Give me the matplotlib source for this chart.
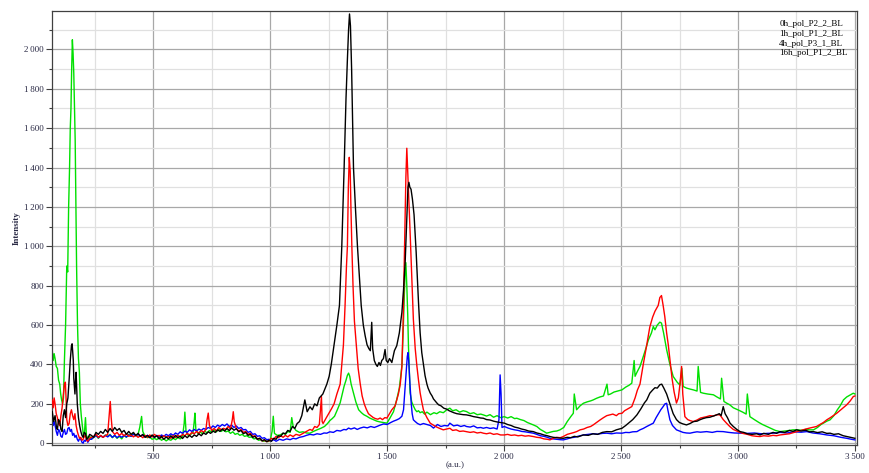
import matplotlib
matplotlib.use("Agg")
import matplotlib.pyplot as plt
from matplotlib.ticker import MultipleLocator, FuncFormatter

plt.rcParams['font.family'] = ['Liberation Serif', 'DejaVu Serif']

labels = ["0h_pol_P2_2_BL", "1h_pol_P1_2_BL", "4h_pol_P3_1_BL", "16h_pol_P1_2_BL"]
colors = ["black", "#ff0000", "#00e000", "#0000ff"]

# (wavenumber, intensity)
s_0h = [(68,160),(74,110),(80,140),(86,80),(90,70),(95,120),(100,110),(105,70),(110,60),(115,140),(120,170),(125,130),(130,200),(135,230),(140,320),(145,420),(150,495),(153,505),(155,470),(158,420),(160,330),(163,280),(165,250),(168,330),(170,360),(175,200),(180,130),(185,90),(190,60),(195,40),(200,30),(205,55),(210,50),(215,20),(220,25),(228,45),(235,40),
        (245,30),(255,55),(265,45),(275,60),(285,50),(295,70),(305,55),(315,75),(325,60),(335,80),(345,65),(355,75),(365,55),(375,65),(385,45),(395,60),(405,45),(415,55),(425,40),(435,50),(445,35),(455,45),(465,30),(475,40),(485,28),(495,42),(505,30),(515,38),(525,22),(535,35),(545,20),(555,32),(565,22),(575,38),(585,25),(595,40),(605,28),(615,36),(625,24),(635,38),(645,28),(655,40),(665,30),(675,42),(685,35),(695,48),(705,38),(715,52),(725,45),(735,58),(745,50),(755,62),(765,55),(775,68),(785,60),(795,72),(805,62),(815,75),(825,64),(835,78),(845,66),(855,74),(865,58),(875,65),(885,48),(895,55),(905,40),(915,45),(925,30),(935,35),(945,20),(955,25),(965,12),(975,18),(985,8),(995,15),(1005,10),(1015,25),(1025,20),(1035,38),(1045,35),(1055,52),(1065,48),(1075,65),(1085,60),(1095,85),(1105,75),(1115,100),(1125,110),(1135,140),(1148,220),(1158,160),(1170,185),(1180,170),(1190,200),(1200,190),(1210,230),(1225,250),(1242,300),(1252,340),(1261,400),(1273,500),(1285,600),(1296,700),(1306,1000),(1316,1400),(1324,1750),(1330,1950),(1335,2100),(1339,2180),(1343,2120),(1348,1900),(1352,1650),(1356,1400),(1365,1180),(1373,1000),(1381,850),(1389,700),(1398,600),(1406,545),(1414,500),(1422,480),(1428,470),(1434,614),(1438,480),(1445,420),(1452,400),(1458,390),(1465,410),(1471,395),(1477,420),(1484,430),(1491,476),(1496,420),(1503,410),(1510,430),(1520,410),(1531,470),(1541,495),(1552,560),(1563,665),(1570,780),(1577,920),(1584,1150),(1589,1300),(1593,1325),(1597,1300),(1602,1290),(1608,1240),(1615,1160),(1624,970),(1634,715),(1641,560),(1648,460),(1655,400),(1662,343),(1670,300),(1675,280),(1684,255),(1692,240),(1698,225),(1705,215),(1712,205),(1720,195),(1730,190),(1742,178),(1755,173),(1765,165),(1775,160),(1785,155),(1798,150),(1810,148),(1825,145),(1839,144),(1855,140),(1870,135),(1885,132),(1900,128),(1911,127),(1925,120),(1940,118),(1955,112),(1970,108),(1985,105),(2001,102),(2015,95),(2030,90),(2045,82),(2060,78),(2075,72),(2090,68),(2105,62),(2125,59),(2140,52),(2155,48),(2170,42),(2185,38),(2196,34),(2210,30),(2225,28),(2240,26),(2253,25),(2270,30),(2285,28),(2300,35),(2315,32),(2339,42),(2360,40),(2380,48),(2400,45),(2420,55),(2439,59),(2460,58),(2480,68),(2504,76),(2520,90),(2535,105),(2550,120),(2568,144),(2585,175),(2600,205),(2610,220),(2623,254),(2635,270),(2645,282),(2655,280),(2666,297),(2674,300),(2683,280),(2695,250),(2709,200),(2723,150),(2737,120),(2750,105),(2765,98),(2780,93),(2795,100),(2810,110),(2825,112),(2837,119),(2850,125),(2865,130),(2880,132),(2895,138),(2909,144),(2920,150),(2928,140),(2937,186),(2945,150),(2955,130),(2966,102),(2980,85),(2995,70),(3009,59),(3025,55),(3040,48),(3060,45),(3080,48),(3094,42),(3110,50),(3130,45),(3150,55),(3165,50),(3180,59),(3200,55),(3220,65),(3235,60),(3251,68),(3270,62),(3290,66),(3305,58),(3323,59),(3340,54),(3360,58),(3380,50),(3394,51),(3410,45),(3430,48),(3450,38),(3465,34),(3480,30),(3500,25)]

s_1h = [(68,220),(72,180),(76,230),(80,200),(85,150),(90,130),(95,100),(100,90),(105,140),(110,180),(115,240),(120,300),(124,310),(128,200),(130,120),(135,90),(140,100),(145,150),(150,170),(155,140),(160,120),(165,150),(170,90),(175,60),(180,40),(185,25),(190,30),(195,15),(200,20),(205,35),(210,40),(215,15),(220,10),(228,25),(235,30),
        (245,35),(255,45),(265,30),(275,40),(285,30),(295,38),(305,45),(312,150),(316,212),(320,130),(325,60),(335,45),(345,55),(355,40),(365,50),(375,38),(385,48),(395,35),(405,42),(415,32),(425,40),(435,30),(445,38),(455,28),(465,40),(475,30),(485,42),(495,32),(505,45),(515,35),(525,40),(535,28),(545,38),(555,30),(565,35),(575,25),(585,38),(595,30),(605,40),(615,32),(625,45),(635,38),(645,50),(655,42),(665,55),(675,48),(685,60),(695,50),(705,65),(715,55),(725,70),(730,120),(735,153),(740,90),(750,65),(760,75),(770,62),(780,80),(790,68),(800,76),(810,70),(820,85),(830,72),(838,120),(842,160),(846,110),(855,75),(865,62),(875,70),(885,55),(895,60),(905,45),(915,50),(925,35),(935,38),(945,22),(955,25),(965,12),(975,15),(985,8),(995,12),(1005,25),(1015,20),(1025,35),(1035,28),(1045,38),(1055,30),(1065,40),(1075,32),(1085,42),(1098,34),(1110,45),(1125,40),(1141,51),(1155,60),(1170,70),(1180,65),(1190,85),(1200,80),(1210,95),(1219,237),(1222,110),(1226,100),(1240,130),(1250,150),(1262,175),(1273,200),(1285,250),(1299,300),(1306,400),(1313,500),(1320,700),(1326,900),(1330,1000),(1334,1300),(1338,1452),(1342,1380),(1345,1200),(1349,1000),(1354,800),(1360,620),(1368,500),(1376,380),(1385,300),(1393,240),(1402,200),(1410,175),(1420,150),(1430,140),(1441,130),(1450,125),(1460,122),(1470,128),(1480,120),(1490,130),(1499,128),(1510,150),(1520,170),(1534,190),(1548,250),(1556,300),(1563,390),(1568,600),(1572,850),(1576,1100),(1580,1350),(1584,1498),(1588,1380),(1592,1250),(1598,1074),(1605,850),(1612,630),(1620,480),(1627,393),(1634,320),(1641,256),(1648,210),(1655,170),(1662,150),(1670,130),(1684,102),(1700,90),(1712,82),(1725,75),(1740,68),(1755,72),(1768,76),(1780,65),(1795,68),(1810,60),(1825,62),(1839,59),(1855,55),(1870,58),(1885,52),(1900,55),(1911,51),(1925,48),(1940,52),(1955,45),(1970,48),(1985,42),(2001,42),(2015,45),(2030,40),(2045,42),(2060,38),(2075,40),(2090,36),(2105,38),(2125,34),(2140,30),(2155,28),(2170,22),(2185,20),(2196,17),(2210,25),(2225,30),(2240,28),(2253,34),(2270,45),(2285,50),(2300,55),(2310,59),(2325,68),(2340,72),(2355,80),(2370,85),(2381,93),(2395,105),(2410,118),(2425,130),(2439,140),(2453,144),(2465,148),(2480,140),(2490,150),(2504,152),(2515,165),(2530,175),(2546,186),(2560,230),(2570,270),(2581,300),(2595,400),(2610,500),(2623,590),(2635,640),(2645,670),(2659,700),(2666,740),(2673,750),(2680,700),(2687,644),(2695,560),(2702,500),(2709,424),(2718,330),(2727,260),(2737,204),(2745,230),(2752,300),(2759,390),(2764,250),(2773,135),(2785,120),(2795,115),(2809,110),(2825,118),(2840,128),(2855,132),(2866,135),(2880,140),(2895,138),(2909,145),(2923,144),(2937,120),(2951,102),(2965,85),(2980,70),(3001,59),(3020,50),(3040,45),(3060,38),(3080,35),(3094,34),(3110,38),(3130,36),(3150,40),(3165,38),(3180,42),(3200,45),(3220,48),(3240,55),(3251,59),(3270,65),(3290,72),(3310,78),(3336,85),(3350,95),(3365,105),(3380,119),(3395,130),(3410,142),(3422,152),(3435,165),(3450,180),(3465,195),(3480,215),(3493,237),(3500,240)]

s_4h = [(68,470),(72,420),(76,455),(80,430),(85,390),(90,380),(95,320),(100,300),(104,250),(108,220),(112,200),(116,230),(120,420),(125,600),(130,900),(134,870),(138,1200),(142,1400),(145,1600),(148,1700),(151,1900),(154,2049),(157,1980),(160,1880),(163,1700),(166,1540),(169,1200),(172,900),(176,600),(180,430),(184,360),(188,200),(192,140),(197,85),(202,30),(206,60),(210,130),(214,40),(220,25),(228,35),(235,20),
        (245,30),(255,40),(265,25),(275,38),(285,30),(295,42),(305,35),(315,45),(325,28),(335,40),(345,25),(355,35),(365,22),(375,40),(385,30),(395,45),(405,35),(415,50),(425,38),(435,45),(442,80),(450,136),(455,60),(465,35),(475,28),(485,32),(495,20),(505,25),(515,18),(525,28),(535,15),(545,22),(555,12),(565,20),(575,15),(585,25),(595,18),(605,30),(615,22),(625,35),(632,100),(635,158),(640,60),(650,38),(660,45),(670,55),(675,110),(678,153),(682,70),(690,50),(700,58),(710,48),(720,62),(730,52),(740,65),(750,55),(760,68),(770,58),(780,72),(790,60),(800,68),(810,58),(820,62),(830,50),(840,58),(850,45),(860,50),(870,40),(880,45),(890,35),(900,38),(910,30),(920,32),(930,22),(940,25),(950,15),(960,18),(970,10),(980,12),(990,8),(1000,15),(1008,60),(1013,137),(1018,50),(1030,40),(1041,42),(1055,50),(1065,45),(1075,60),(1085,55),(1092,130),(1098,85),(1110,65),(1125,55),(1140,58),(1155,52),(1170,51),(1185,60),(1200,68),(1215,75),(1232,85),(1245,100),(1255,115),(1265,125),(1275,137),(1287,170),(1299,205),(1308,250),(1316,290),(1324,320),(1330,345),(1335,356),(1340,340),(1346,300),(1356,256),(1366,210),(1378,170),(1390,155),(1400,145),(1413,137),(1425,128),(1440,120),(1456,112),(1470,108),(1485,105),(1499,102),(1513,130),(1527,160),(1541,222),(1552,280),(1563,393),(1568,550),(1572,700),(1576,850),(1580,917),(1584,800),(1588,650),(1591,495),(1595,350),(1598,256),(1605,210),(1612,190),(1620,170),(1627,160),(1634,165),(1641,155),(1650,160),(1660,148),(1670,158),(1685,145),(1700,155),(1712,150),(1725,160),(1740,155),(1755,170),(1768,178),(1780,165),(1795,170),(1810,158),(1825,165),(1839,161),(1855,150),(1870,155),(1885,145),(1900,148),(1911,144),(1925,138),(1940,145),(1955,132),(1970,140),(1985,130),(2001,135),(2015,128),(2030,135),(2045,125),(2054,127),(2070,120),(2085,115),(2100,105),(2125,93),(2140,85),(2155,70),(2170,60),(2182,51),(2195,55),(2210,60),(2225,62),(2239,68),(2255,80),(2270,110),(2285,135),(2296,152),(2300,250),(2310,170),(2325,190),(2339,203),(2355,210),(2370,215),(2381,220),(2395,228),(2410,235),(2425,240),(2440,300),(2445,246),(2455,250),(2470,260),(2485,265),(2504,271),(2520,285),(2535,295),(2546,305),(2556,420),(2560,340),(2570,365),(2581,390),(2595,440),(2609,492),(2617,525),(2630,560),(2638,593),(2645,576),(2655,600),(2666,615),(2673,610),(2682,560),(2695,475),(2709,400),(2723,339),(2740,310),(2752,295),(2760,380),(2766,288),(2780,280),(2795,275),(2809,271),(2825,265),(2830,390),(2840,258),(2852,254),(2870,250),(2895,246),(2910,235),(2925,225),(2930,330),(2940,212),(2951,204),(2965,195),(2980,180),(3001,169),(3020,158),(3035,148),(3040,250),(3051,135),(3070,120),(3090,105),(3105,95),(3123,85),(3140,75),(3160,65),(3180,59),(3200,62),(3220,65),(3235,68),(3251,68),(3270,66),(3290,70),(3305,68),(3323,68),(3340,80),(3355,95),(3370,105),(3380,112),(3394,119),(3410,140),(3425,170),(3437,190),(3451,220),(3465,235),(3480,245),(3493,254),(3500,250)]

s_16h = [(68,120),(72,90),(76,110),(80,90),(85,60),(90,40),(95,70),(100,60),(105,35),(110,30),(115,55),(120,70),(125,45),(130,50),(135,75),(140,80),(145,60),(150,70),(155,40),(160,50),(165,30),(170,40),(175,20),(180,10),(185,25),(190,20),(195,5),(200,0),(205,15),(210,10),(215,25),(220,5),(228,20),(235,20),
         (245,30),(255,40),(265,28),(275,38),(285,30),(295,40),(305,32),(315,42),(325,30),(335,40),(345,28),(355,38),(365,30),(375,40),(385,32),(395,42),(405,35),(415,45),(425,38),(435,45),(445,35),(455,42),(465,32),(475,40),(485,30),(495,38),(505,30),(515,40),(525,32),(535,42),(545,35),(555,45),(565,38),(575,48),(585,40),(595,52),(605,45),(615,58),(625,50),(635,62),(645,55),(655,68),(665,60),(675,70),(685,62),(695,72),(705,65),(715,75),(725,70),(735,80),(745,75),(755,88),(765,80),(775,92),(785,85),(795,95),(805,88),(815,98),(825,85),(835,92),(845,80),(855,88),(865,75),(875,80),(885,68),(895,70),(905,55),(915,60),(925,45),(935,48),(945,35),(955,38),(965,25),(975,28),(985,18),(995,20),(1005,12),(1015,18),(1025,10),(1040,20),(1055,15),(1070,22),(1085,18),(1098,25),(1110,22),(1125,30),(1141,34),(1155,40),(1170,45),(1185,42),(1200,48),(1215,45),(1230,52),(1242,51),(1255,58),(1270,55),(1285,65),(1300,62),(1315,70),(1325,68),(1335,77),(1345,72),(1360,78),(1372,70),(1385,77),(1400,82),(1415,78),(1430,85),(1445,80),(1456,85),(1470,92),(1485,98),(1500,95),(1515,105),(1527,112),(1540,118),(1552,125),(1563,137),(1570,170),(1577,290),(1582,380),(1586,440),(1589,460),(1592,420),(1595,350),(1598,290),(1603,200),(1607,150),(1612,119),(1620,110),(1630,100),(1641,94),(1655,100),(1670,95),(1685,90),(1698,77),(1715,95),(1730,85),(1745,90),(1760,88),(1768,102),(1784,88),(1800,92),(1815,85),(1830,90),(1839,85),(1855,82),(1870,88),(1885,78),(1900,80),(1911,76),(1925,80),(1940,75),(1955,78),(1970,72),(1978,120),(1983,347),(1987,250),(1991,80),(2001,85),(2015,78),(2030,72),(2045,68),(2060,65),(2075,60),(2090,58),(2105,55),(2125,51),(2140,45),(2155,38),(2170,35),(2185,30),(2196,25),(2210,22),(2225,20),(2240,18),(2253,17),(2270,22),(2285,28),(2300,30),(2315,35),(2339,42),(2360,45),(2380,48),(2400,46),(2420,50),(2439,51),(2460,48),(2480,52),(2504,51),(2520,55),(2535,54),(2550,58),(2568,59),(2581,68),(2595,75),(2610,85),(2623,93),(2638,102),(2650,130),(2660,150),(2670,170),(2680,186),(2688,200),(2695,203),(2700,170),(2709,119),(2720,90),(2737,68),(2750,62),(2765,55),(2780,52),(2795,51),(2810,55),(2825,58),(2840,56),(2866,59),(2890,55),(2910,60),(2937,59),(2960,55),(2985,52),(3009,51),(3040,50),(3070,52),(3100,48),(3125,50),(3151,51),(3180,55),(3210,52),(3240,58),(3270,56),(3294,59),(3320,52),(3350,48),(3380,42),(3410,38),(3440,30),(3465,25),(3485,20),(3500,17)]

series = [s_0h, s_1h, s_4h, s_16h]

fig = plt.figure(figsize=(8.7, 4.73), dpi=100)
ax = fig.add_axes([0.0598, 0.0592, 0.925, 0.9175])

lines = []
for s, c, lab in zip(series, colors, labels):
    x = [p[0] for p in s]
    y = [p[1] for p in s]
    ln, = ax.plot(x, y, color=c, lw=1.0, label=lab)
    lines.append(ln)
# black drawn on top
for z, ln in zip([4, 3, 1, 2], lines):
    ln.set_zorder(z)

ax.set_xlim(67, 3508)
ax.set_ylim(-9, 2195)

ax.xaxis.set_major_locator(MultipleLocator(500))
ax.xaxis.set_minor_locator(MultipleLocator(250))
ax.yaxis.set_major_locator(MultipleLocator(200))
ax.yaxis.set_minor_locator(MultipleLocator(100))
fmt = FuncFormatter(lambda v, p: "{:,.0f}".format(v).replace(",", "\u2009"))
ax.xaxis.set_major_formatter(fmt)
ax.yaxis.set_major_formatter(fmt)

ax.grid(which="major", color="#a8a8a8", lw=0.9)
ax.grid(which="minor", color="#e0e0e0", lw=0.9)
ax.set_axisbelow(True)

ax.tick_params(which="major", length=4, width=0.8, color="#404040", labelsize=6.5, labelcolor="#2a2a45", pad=2)
ax.tick_params(which="minor", length=2.5, width=0.8, color="#404040")
for sp in ax.spines.values():
    sp.set_color("#404040")
    sp.set_linewidth(0.9)

fig.text(455/870, 1 - 465/473, "(a.u.)", fontsize=6.5, color="#2a2a45", ha="center", va="center")
fig.text(17/870, 1 - 228/473, "Intensity", fontsize=6.5, fontweight="bold", color="#2a2a45",
         rotation=90, ha="center", va="center")

leg = ax.legend(loc="upper right", frameon=False, handlelength=0, handletextpad=0,
                fontsize=6.5, labelspacing=0.15, borderaxespad=0.6)

plt.savefig("out.png", dpi=100)
